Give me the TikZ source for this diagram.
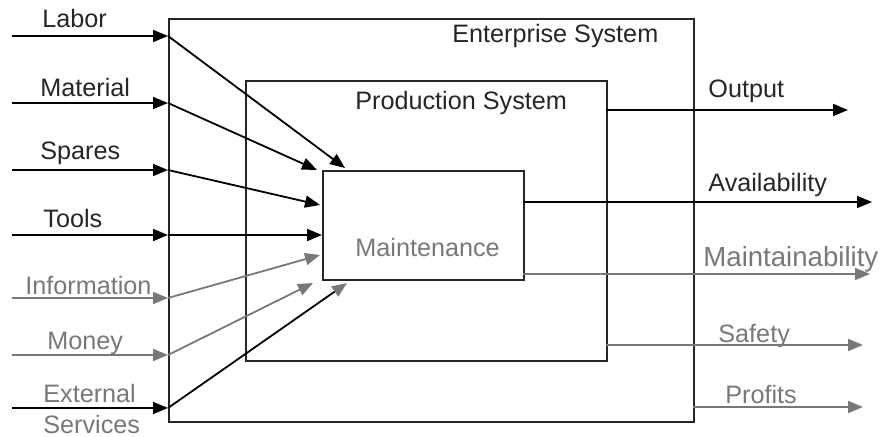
\documentclass[tikz,border=0pt]{standalone}
\usepackage{fontspec}
\setmainfont{Liberation Sans}
\usetikzlibrary{arrows.meta, positioning}
\definecolor{flowgray}{gray}{0.47}

\begin{document}
\begin{tikzpicture}[x=0.5pt, y=-0.5pt,
  box/.style={draw=black!85, line width=0.9pt, anchor=north west, inner sep=0pt},
  flow/.style={-{Triangle[length=7.5pt,width=6pt]}, line width=0.9pt},
  lbl/.style={font=\fontsize{12.6}{15}\selectfont, inner sep=0pt, anchor=base west}]
\useasboundingbox (0,0) rectangle (882,437);
% nested systems
\node[box, minimum width=262.5pt, minimum height=201.5pt] (ent) at (168,18) {};
\node[box, minimum width=180.5pt, minimum height=140pt] (prod) at (245,80) {};
\node[box, minimum width=100.5pt, minimum height=54.5pt] (mnt) at (322,170) {};
\node[lbl, text=black!85] (ent-t) at (452,43) {Enterprise System};
\node[lbl, text=black!85] (prod-t) at (355,110) {Production System};
\node[lbl, text=flowgray] (mnt-t) at (355,257) {Maintenance};
% inputs
\foreach \i/\y/\tx/\ty/\c in {1/36/345/168/black, 2/103/317/170/black,
  3/170/320/205/black, 4/235/322/235/black, 5/298/320/255/flowgray,
  6/355/313/283/flowgray, 7/408/347/283/black} {
  \coordinate (in\i) at (12,\y);
  \coordinate (e\i) at (ent.west |- in\i);
  \coordinate (t\i) at (\tx,\ty);
  \draw[flow, \c] (in\i) -- (e\i);
}
\foreach \i/\c in {1/black, 2/black, 3/black, 4/black, 5/flowgray, 6/flowgray}
  \draw[flow, \c] (e\i) -- (t\i);
\draw[line width=0.9pt, -{Triangle[length=7.5pt,width=6pt,color=flowgray]}] (e7) -- (t7);
\foreach \t/\x/\y/\c in {Labor/42/28/black!85, Material/40/97/black!85,
  Spares/40/160/black!85, Tools/43/228/black!85, Information/25/295/flowgray,
  Money/47/350/flowgray, External/43/403/flowgray, Services/43/433/flowgray}
  \node[lbl, text=\c] (lbl-\t) at (\x,\y) {\t};
% outputs
\foreach \i/\x/\y/\ex/\c in {1/606/110/848/black, 2/523/202/872/black,
  3/523/274/870/flowgray, 4/606/345/863/flowgray, 5/693/407/863/flowgray} {
  \coordinate (s\i) at (\x,\y);
  \coordinate (o\i) at (\ex,\y);
  \draw[flow, \c] (s\i) -- (o\i);
}
\foreach \t/\x/\y/\c in {Output/708/98/black!85, Availability/708/192/black!85,
  Safety/718/343/flowgray, Profits/725/404/flowgray}
  \node[lbl, text=\c] (lbl-\t) at (\x,\y) {\t};
\node[lbl, text=flowgray, font=\fontsize{13.8}{16}\selectfont] (lbl-Maintainability) at (703,267) {Maintainability};
\end{tikzpicture}
\end{document}
